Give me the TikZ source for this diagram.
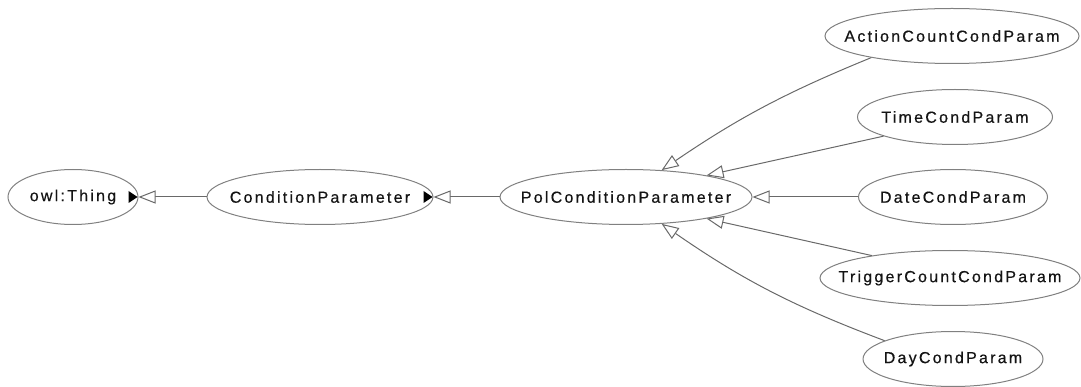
\documentclass[tikz,border=0pt]{standalone}
\usepackage{fontspec}
\setmainfont{Liberation Sans}[LetterSpace=14, FakeBold=0.5]
\usetikzlibrary{arrows.meta,shapes.geometric}

\definecolor{clsline}{RGB}{128,128,128}
\definecolor{edgeline}{RGB}{105,105,105}
\definecolor{labeltext}{RGB}{20,20,20}

\begin{document}
\begin{tikzpicture}[x=1pt,y=-1pt,
  cls/.style={ellipse, draw=clsline, line width=1pt, fill=white,
    minimum height=55pt, inner xsep=-40pt, inner ysep=0pt,
    font=\fontsize{16}{19}\selectfont, text=labeltext},
  isa/.style={draw=edgeline, line width=1pt,
    -{Triangle[length=17pt, width=13pt, fill=white]}},
  expander/.style={fill=black}
]
\useasboundingbox (0,0) rectangle (1081,387);

% class hierarchy nodes
\node[cls, minimum width=130pt] (thing)   at (73,197)  {owl:Thing};
\node[cls, minimum width=226pt] (cond)    at (320,197) {ConditionParameter};
\node[cls, minimum width=252pt] (pol)     at (626,197) {PolConditionParameter};
\node[cls, minimum width=254pt] (action)  at (952,36)  {ActionCountCondParam};
\node[cls, minimum width=195pt] (time)    at (955,117) {TimeCondParam};
\node[cls, minimum width=189pt] (date)    at (953,197) {DateCondParam};
\node[cls, minimum width=260pt] (trigger) at (950,278) {TriggerCountCondParam};
\node[cls, minimum width=180pt] (day)     at (953,359) {DayCondParam};

% expand markers
\fill[expander] (thing.east) ++(-10,-6) -- ++(9,6) -- ++(-9,6) -- cycle;
\fill[expander] (cond.east)  ++(-10,-6) -- ++(9,6) -- ++(-9,6) -- cycle;

% subclass edges
\draw[isa] (cond.west) -- (thing.east);
\draw[isa] (pol.west) -- (cond.east);
\draw[isa] (action.195) to[bend right=6] (pol.37);
\draw[isa] (time.195) -- (pol.15);
\draw[isa] (date.west) -- (pol.east);
\draw[isa] (trigger.164) -- (pol.-15);
\draw[isa] (day.165) to[bend left=7] (pol.-37);
\end{tikzpicture}
\end{document}
